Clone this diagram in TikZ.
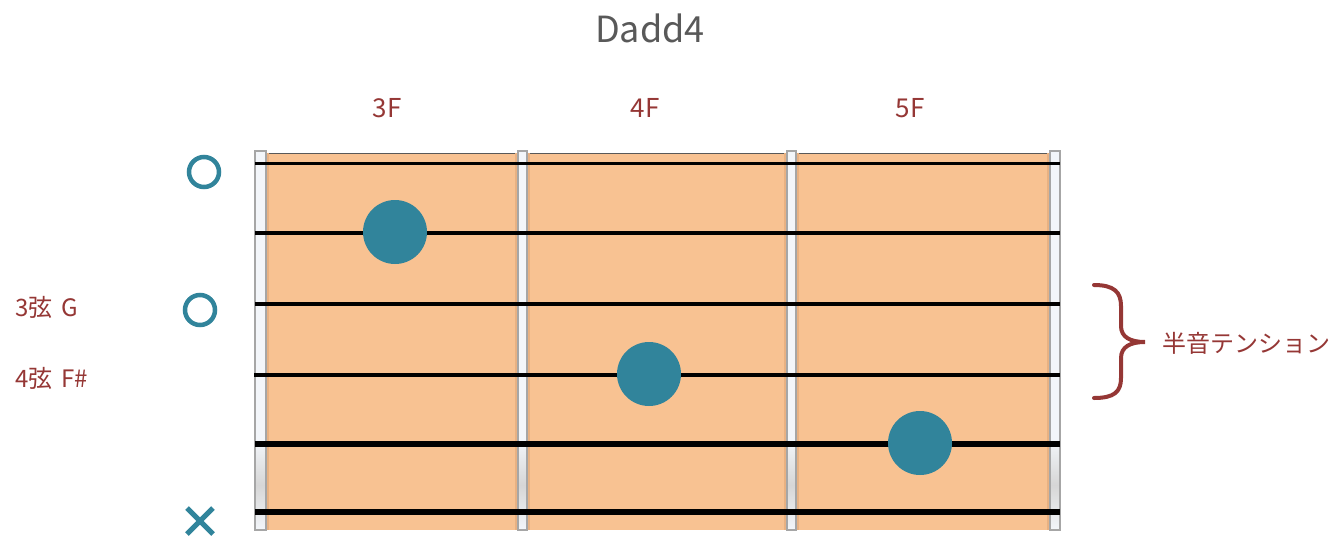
\documentclass[tikz,border=0pt]{standalone}
\usepackage{fontspec}
\setmainfont{Noto Sans CJK JP}
\definecolor{fretorange}{HTML}{F8C292}
\definecolor{fretshadow}{HTML}{DDA677}
\definecolor{teal}{HTML}{31849B}
\definecolor{labred}{HTML}{953735}
\definecolor{titlegray}{HTML}{595959}
\definecolor{barfill}{HTML}{F3F6FA}
\definecolor{barmid}{HTML}{D6D6D6}
\definecolor{barline}{HTML}{A6A6A6}
\tikzset{
  lab/.style={text=labred, font=\fontsize{24}{28}\selectfont, inner sep=0pt},
  fretlab/.style={text=labred, font=\fontsize{26}{30}\selectfont, inner sep=0pt},
  dot/.style={circle, fill=teal, minimum size=64pt, inner sep=0pt},
  openmark/.style={circle, draw=teal, line width=4.5pt, minimum size=30pt, inner sep=0pt},
  stringline/.style={black, line cap=butt},
  bar/.style={draw=barline, line width=1.3pt},
}
\newcommand{\barshadowleft}[1]{\fill[fretshadow!60!fretorange] (#1-3,153) rectangle (#1,530);}
\newcommand{\barshadowright}[1]{\fill[fretshadow!60!fretorange] (#1,153) rectangle (#1+3,530);}
\newcommand{\fretbar}[2]{% x-left, x-right
  \fill[barfill] (#1,151) rectangle (#2,440);
  \shade[top color=barfill, bottom color=barfill, middle color=barmid] (#1,440) rectangle (#2,530);
  \draw[bar] (#1,151) rectangle (#2,530);
}
\begin{document}
\begin{tikzpicture}[x=1pt,y=-1pt]
\useasboundingbox (0,0) rectangle (1337,538);
% fretboard
\fill[fretorange] (266,153) rectangle (1050,530);
\draw[line width=1.5pt, black!65] (266,153.5) -- (1050,153.5);
\barshadowright{266}
\barshadowleft{518}\barshadowright{527}
\barshadowleft{787}\barshadowright{796}
\barshadowleft{1050}
\fretbar{255}{266}
\fretbar{518}{527}
\fretbar{787}{796}
\fretbar{1050}{1060}
% strings
\coordinate (s1a) at (255,163); \coordinate (s1b) at (1060,163);
\coordinate (s2a) at (255,233); \coordinate (s2b) at (1060,233);
\coordinate (s3a) at (255,304); \coordinate (s3b) at (1060,304);
\coordinate (s4a) at (254,375); \coordinate (s4b) at (1060,375);
\coordinate (s5a) at (255,444); \coordinate (s5b) at (1060,444);
\coordinate (s6a) at (255,512); \coordinate (s6b) at (1060,512);
\draw[stringline, line width=3pt] (s1a) -- (s1b);
\draw[stringline, line width=3.4pt] (s2a) -- (s2b);
\draw[stringline, line width=4.2pt] (s3a) -- (s3b);
\draw[stringline, line width=4.8pt] (s4a) -- (s4b);
\draw[stringline, line width=5.4pt] (s5a) -- (s5b);
\draw[stringline, line width=6.8pt] (s6a) -- (s6b);
% dots
\node[dot] (d1) at (395,232) {};
\node[dot] (d2) at (649,374) {};
\node[dot] (d3) at (920,443) {};
% open / muted marks
\node[openmark] (o1) at (204,172) {};
\node[openmark] (o3) at (200,310) {};
\coordinate (x6) at (200,521);
\draw[teal, line width=5pt] ([shift={(-13,-13)}]x6) -- ([shift={(13,13)}]x6)
  ([shift={(-13,13)}]x6) -- ([shift={(13,-13)}]x6);
% title and fret labels
\node[text=titlegray, font=\fontsize{36}{40}\selectfont, inner sep=0pt] (title) at (650,28) {Dadd4};
\node[fretlab] (f3) at (387,108) {3F};
\node[fretlab] (f4) at (645,108) {4F};
\node[fretlab] (f5) at (910,108) {5F};
% left labels
\node[lab, anchor=west] (l3) at (15,307) {3弦\hspace{9pt}G};
\node[lab, anchor=west] (l4) at (15,378) {4弦\hspace{9pt}F\#};
% brace
\coordinate (bt) at (1094,285);
\coordinate (btip) at (1145,342);
\coordinate (bb) at (1094,398);
\draw[labred, line width=4pt, line cap=round, line join=miter]
  (bt) .. controls (1114,285) and (1121,292) .. (1121,306) -- (1121,326)
  .. controls (1121,337) and (1130,342) .. (btip)
  .. controls (1130,342) and (1121,347) .. (1121,358) -- (1121,378)
  .. controls (1121,392) and (1114,398) .. (bb);
\node[lab, anchor=west] (tension) at (1162,343) {半音テンション};
\end{tikzpicture}
\end{document}
